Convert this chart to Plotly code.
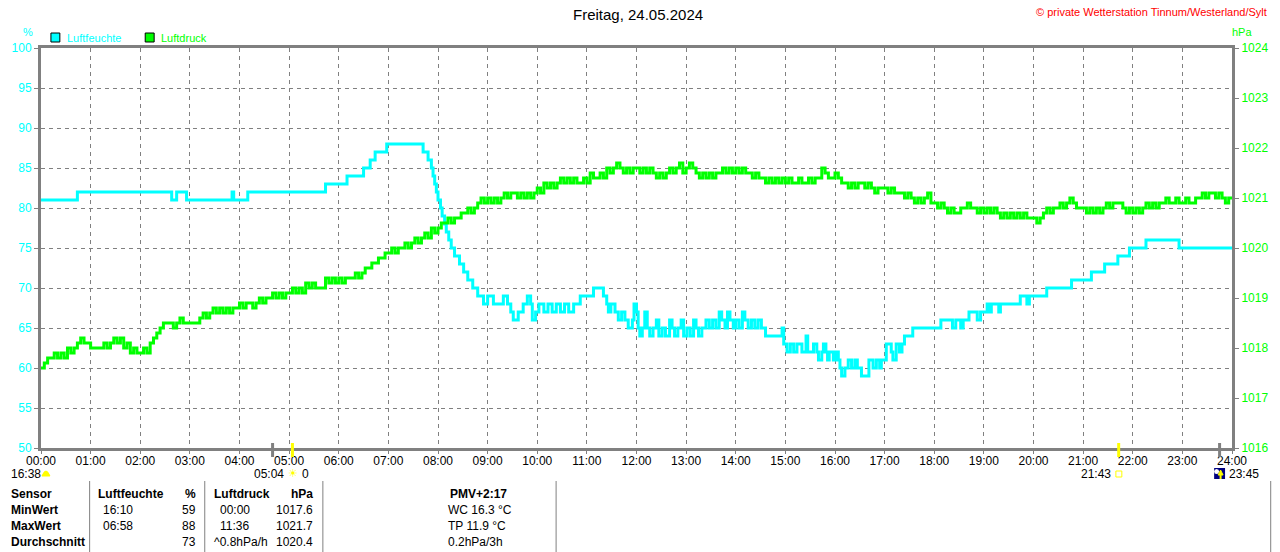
import plotly.graph_objects as go

TITLE = "Freitag, 24.05.2024"
COPYRIGHT = "© private Wetterstation Tinnum/Westerland/Sylt"

# Luftfeuchte in %, stepwise (time of change, value)
HUMIDITY = [
    ("00:00", 81), ("00:44", 82), ("02:38", 81), ("02:44", 82), ("02:56", 81), ("03:51", 82), ("03:53", 81),
    ("04:10", 82), ("05:44", 83), ("06:10", 84), ("06:30", 85), ("06:38", 86), ("06:44", 87), ("06:58", 88),
    ("07:42", 87), ("07:48", 86), ("07:52", 85), ("07:54", 84), ("07:56", 83), ("07:58", 82), ("08:00", 81),
    ("08:03", 80), ("08:05", 79), ("08:08", 78), ("08:10", 77), ("08:13", 76), ("08:16", 75), ("08:20", 74),
    ("08:26", 73), ("08:31", 72), ("08:36", 71), ("08:42", 70), ("08:48", 69), ("08:55", 68), ("09:00", 69),
    ("09:07", 68), ("09:19", 69), ("09:24", 68), ("09:28", 67), ("09:31", 66), ("09:37", 67), ("09:43", 68),
    ("09:48", 69), ("09:52", 68), ("09:54", 66), ("09:58", 67), ("10:02", 68), ("10:08", 67), ("10:13", 68),
    ("10:18", 67), ("10:23", 68), ("10:28", 67), ("10:33", 68), ("10:38", 67), ("10:44", 68), ("10:52", 69),
    ("11:08", 70), ("11:20", 69), ("11:24", 68), ("11:26", 67), ("11:29", 68), ("11:34", 67), ("11:38", 66),
    ("11:42", 67), ("11:46", 66), ("11:50", 65), ("11:55", 66), ("11:57", 68), ("12:00", 67), ("12:02", 65),
    ("12:04", 64), ("12:07", 65), ("12:10", 67), ("12:13", 65), ("12:16", 64), ("12:20", 65), ("12:24", 66),
    ("12:27", 64), ("12:31", 65), ("12:35", 64), ("12:40", 66), ("12:43", 65), ("12:46", 64), ("12:50", 65),
    ("12:54", 66), ("12:57", 64), ("13:01", 65), ("13:05", 64), ("13:09", 66), ("13:12", 65), ("13:15", 64),
    ("13:19", 65), ("13:24", 66), ("13:28", 65), ("13:32", 66), ("13:36", 65), ("13:40", 67), ("13:43", 66),
    ("13:47", 65), ("13:50", 67), ("13:53", 66), ("13:57", 65), ("14:00", 66), ("14:04", 65), ("14:08", 67),
    ("14:11", 66), ("14:15", 65), ("14:19", 66), ("14:23", 65), ("14:27", 66), ("14:31", 65), ("14:36", 64),
    ("14:56", 65), ("14:58", 63), ("15:02", 62), ("15:06", 63), ("15:10", 62), ("15:14", 63), ("15:20", 62),
    ("15:25", 64), ("15:27", 62), ("15:34", 63), ("15:38", 62), ("15:40", 61), ("15:44", 62), ("15:46", 63),
    ("15:49", 62), ("15:51", 61), ("15:53", 62), ("15:58", 61), ("16:01", 62), ("16:04", 61), ("16:06", 60),
    ("16:08", 59), ("16:12", 60), ("16:16", 61), ("16:20", 60), ("16:24", 61), ("16:27", 60), ("16:32", 59),
    ("16:41", 61), ("16:46", 60), ("16:50", 61), ("16:54", 60), ("16:56", 61), ("17:02", 63), ("17:08", 62),
    ("17:10", 61), ("17:14", 63), ("17:18", 62), ("17:21", 63), ("17:24", 64), ("17:34", 65), ("18:08", 66),
    ("18:22", 65), ("18:26", 66), ("18:32", 65), ("18:35", 66), ("18:42", 67), ("18:52", 66), ("18:56", 67),
    ("19:04", 68), ("19:06", 67), ("19:09", 68), ("19:18", 67), ("19:20", 68), ("19:44", 69), ("19:52", 68),
    ("19:55", 69), ("20:16", 70), ("20:46", 71), ("21:10", 72), ("21:26", 73), ("21:42", 74), ("21:56", 75),
    ("22:16", 76), ("22:56", 75), ("24:00", 75),
]

# Luftdruck in hPa, one row per hour, sampled every 4 minutes
P_STEP_MIN = 4
PRESSURE_BY_HOUR = [
    [1017.6, 1017.7, 1017.8, 1017.8, 1017.9, 1017.8, 1017.9, 1017.8, 1018.0, 1017.9, 1018.0, 1018.1, 1018.2, 1018.1, 1018.1],
    [1018.0, 1018.0, 1018.0, 1018.0, 1018.1, 1018.0, 1018.1, 1018.2, 1018.1, 1018.2, 1018.0, 1018.1, 1017.9, 1018.0, 1017.9],
    [1017.9, 1018.0, 1017.9, 1018.1, 1018.2, 1018.3, 1018.4, 1018.5, 1018.5, 1018.5, 1018.4, 1018.5, 1018.6, 1018.5, 1018.5],
    [1018.5, 1018.5, 1018.5, 1018.6, 1018.7, 1018.6, 1018.7, 1018.8, 1018.7, 1018.8, 1018.7, 1018.8, 1018.7, 1018.8, 1018.8],
    [1018.9, 1018.8, 1018.9, 1018.9, 1018.8, 1018.9, 1019.0, 1018.9, 1019.0, 1019.0, 1019.1, 1019.0, 1019.1, 1019.0, 1019.1],
    [1019.1, 1019.2, 1019.1, 1019.2, 1019.1, 1019.3, 1019.2, 1019.3, 1019.2, 1019.2, 1019.2, 1019.4, 1019.3, 1019.4, 1019.3],
    [1019.4, 1019.3, 1019.4, 1019.4, 1019.4, 1019.5, 1019.4, 1019.5, 1019.6, 1019.6, 1019.7, 1019.7, 1019.8, 1019.8, 1019.9],
    [1019.9, 1020.0, 1019.9, 1020.0, 1020.0, 1020.1, 1020.0, 1020.1, 1020.2, 1020.1, 1020.2, 1020.3, 1020.2, 1020.4, 1020.3],
    [1020.4, 1020.5, 1020.5, 1020.6, 1020.5, 1020.6, 1020.6, 1020.7, 1020.7, 1020.8, 1020.7, 1020.8, 1020.9, 1021.0, 1020.9],
    [1021.0, 1020.9, 1021.0, 1020.9, 1021.0, 1021.1, 1021.0, 1021.1, 1021.1, 1021.0, 1021.1, 1021.0, 1021.1, 1021.0, 1021.1],
    [1021.2, 1021.1, 1021.3, 1021.2, 1021.3, 1021.2, 1021.3, 1021.4, 1021.3, 1021.4, 1021.3, 1021.4, 1021.3, 1021.3, 1021.4],
    [1021.3, 1021.5, 1021.4, 1021.4, 1021.5, 1021.4, 1021.6, 1021.5, 1021.6, 1021.7, 1021.6, 1021.5, 1021.6, 1021.5, 1021.6],
    [1021.6, 1021.5, 1021.6, 1021.5, 1021.6, 1021.5, 1021.4, 1021.5, 1021.4, 1021.5, 1021.6, 1021.5, 1021.6, 1021.7, 1021.5],
    [1021.6, 1021.7, 1021.6, 1021.5, 1021.4, 1021.5, 1021.4, 1021.5, 1021.4, 1021.5, 1021.5, 1021.6, 1021.5, 1021.6, 1021.5],
    [1021.6, 1021.5, 1021.6, 1021.5, 1021.5, 1021.4, 1021.5, 1021.4, 1021.4, 1021.3, 1021.4, 1021.3, 1021.4, 1021.3, 1021.4],
    [1021.3, 1021.4, 1021.3, 1021.3, 1021.4, 1021.3, 1021.3, 1021.4, 1021.3, 1021.4, 1021.4, 1021.6, 1021.5, 1021.4, 1021.4],
    [1021.5, 1021.4, 1021.3, 1021.3, 1021.2, 1021.3, 1021.2, 1021.3, 1021.3, 1021.2, 1021.3, 1021.2, 1021.1, 1021.2, 1021.2],
    [1021.2, 1021.1, 1021.2, 1021.1, 1021.1, 1021.1, 1021.0, 1021.1, 1021.0, 1020.9, 1021.0, 1020.9, 1021.0, 1021.1, 1020.9],
    [1020.9, 1020.8, 1020.9, 1020.8, 1020.7, 1020.8, 1020.7, 1020.7, 1020.8, 1020.8, 1020.9, 1020.8, 1020.8, 1020.7, 1020.8],
    [1020.7, 1020.8, 1020.7, 1020.8, 1020.7, 1020.6, 1020.7, 1020.6, 1020.7, 1020.6, 1020.7, 1020.6, 1020.7, 1020.6, 1020.6],
    [1020.6, 1020.5, 1020.6, 1020.7, 1020.8, 1020.7, 1020.8, 1020.8, 1020.9, 1020.8, 1020.9, 1021.0, 1020.9, 1020.8, 1020.8],
    [1020.8, 1020.7, 1020.8, 1020.7, 1020.8, 1020.7, 1020.8, 1020.9, 1020.8, 1020.9, 1020.9, 1020.9, 1020.8, 1020.7, 1020.8],
    [1020.7, 1020.8, 1020.7, 1020.8, 1020.9, 1020.8, 1020.9, 1020.8, 1020.9, 1020.9, 1021.0, 1020.9, 1020.9, 1021.0, 1020.9],
    [1020.9, 1021.0, 1020.9, 1020.9, 1021.0, 1021.0, 1021.1, 1021.0, 1021.1, 1021.1, 1021.0, 1021.1, 1021.0, 1020.9, 1021.0],
]
PRESSURE_END = 1021.0  # 24:00

HOUR_LABELS = ["%02d:00" % h for h in range(25)]

# sun / moon markers on the time axis
MARKERS = [("04:40", "#808080"), ("05:04", "#ffff00"), ("21:43", "#ffff00"), ("23:45", "#808080")]

TABLE_HEAD = ["Sensor", "Luftfeuchte", "%", "Luftdruck", "hPa", "PMV+2:17"]
TABLE_ROWS = [
    ["MinWert", "16:10", "59", "00:00", "1017.6", "WC 16.3 °C"],
    ["MaxWert", "06:58", "88", "11:36", "1021.7", "TP 11.9 °C"],
    ["Durchschnitt", "", "73", "^0.8hPa/h", "1020.4", "0.2hPa/3h"],
]

CYAN = "#00ffff"
GREEN = "#00ff00"
GRAY = "#808080"
FONT = "Liberation Sans, Arial, sans-serif"


def hours(t):
    h, m = t.split(":")
    return int(h) + int(m) / 60


# pixel -> paper helpers (plot area spans x 40..1240, y 48..448)
def px(x):
    return (x - 40) / 1200


def py(y):
    return (448 - y) / 400


hum_x = [hours(t) for t, _ in HUMIDITY]
hum_y = [v for _, v in HUMIDITY]

p_x, p_y = [], []
for h, row in enumerate(PRESSURE_BY_HOUR):
    for i, v in enumerate(row):
        p_x.append(h + i * P_STEP_MIN / 60)
        p_y.append(v)
p_x.append(24)
p_y.append(PRESSURE_END)

fig = go.Figure()
fig.add_trace(go.Scatter(x=hum_x, y=hum_y, mode="lines", line=dict(color=CYAN, width=3, shape="hv"),
                         name="Luftfeuchte", yaxis="y"))
fig.add_trace(go.Scatter(x=p_x, y=p_y, mode="lines", line=dict(color=GREEN, width=3, shape="hv"),
                         name="Luftdruck", yaxis="y2"))

ann = []
shapes = []


def text(x, y, s, color="black", size=12, xanchor="left", bold=False):
    ann.append(dict(x=px(x), y=py(y), xref="paper", yref="paper", text="<b>%s</b>" % s if bold else s,
                    showarrow=False, xanchor=xanchor, yanchor="middle",
                    font=dict(family=FONT, size=size, color=color)))


text(642, 15, TITLE, size=15, xanchor="center")
text(1277, 12, COPYRIGHT, color="#ff0000", size=11, xanchor="right")
text(27, 32, "%", color=CYAN, size=11, xanchor="center")
text(1250, 32, "hPa", color=GREEN, size=11, xanchor="center")

# legend
for x0, label, col in [(50, "Luftfeuchte", CYAN), (145, "Luftdruck", GREEN)]:
    shapes.append(dict(type="rect", xref="paper", yref="paper", x0=px(x0), x1=px(x0 + 9), y0=py(42), y1=py(33),
                       fillcolor=col, line=dict(color="black", width=1)))
    text(x0 + 14, 38, label, color=col, size=11)

# sun / moon ticks on the axis
for t, col in MARKERS:
    shapes.append(dict(type="line", xref="x", yref="paper", x0=hours(t), x1=hours(t), y0=py(443), y1=py(457),
                       line=dict(color=col, width=3)))

text(8, 474, "16:38", size=12)
shapes.append(dict(type="path", xref="paper", yref="paper",
                   path="M %f,%f Q %f,%f %f,%f Z" % (px(41), py(476), px(45), py(466), px(49), py(476)),
                   fillcolor="#ffff00", line=dict(color="#ffff00", width=1)))
text(287, 474, "05:04", size=12, xanchor="right")
text(294, 473, "☀", color="#ffff00", size=11, xanchor="center")
text(301, 474, "0", size=12)
text(1120, 474, "21:43", size=12, xanchor="right")
shapes.append(dict(type="rect", xref="paper", yref="paper", x0=px(1123), x1=px(1129), y0=py(477), y1=py(471),
                   line=dict(color="#ffff00", width=1)))
shapes.append(dict(type="rect", xref="paper", yref="paper", x0=px(1222), x1=px(1233), y0=py(479), y1=py(468),
                   fillcolor="#000080", line=dict(width=0)))
shapes.append(dict(type="circle", xref="paper", yref="paper", x0=px(1222), x1=px(1227), y0=py(474), y1=py(469),
                   fillcolor="white", line=dict(width=0)))
shapes.append(dict(type="path", xref="paper", yref="paper",
                   path="M %f,%f L %f,%f L %f,%f Z" % (px(1226), py(475), px(1231), py(475), px(1228.5), py(470)),
                   fillcolor="#ffff00", line=dict(color="#ffff00", width=1)))
shapes.append(dict(type="line", xref="paper", yref="paper", x0=px(1228.5), x1=px(1228.5), y0=py(475), y1=py(479),
                   line=dict(color="#ffff00", width=2)))
text(1235, 474, "23:45", size=12)

# table at the bottom
for xs in [89, 205, 324, 559, 1279]:
    shapes.append(dict(type="line", xref="paper", yref="paper", x0=px(xs), x1=px(xs), y0=py(481), y1=py(552),
                       line=dict(color=GRAY, width=1)))

rows_y = [510, 526, 542]
text(8, 494, TABLE_HEAD[0], bold=True)
text(95, 494, TABLE_HEAD[1], bold=True)
text(198, 494, TABLE_HEAD[2], bold=True, xanchor="right")
text(212, 494, TABLE_HEAD[3], bold=True)
text(316, 494, TABLE_HEAD[4], bold=True, xanchor="right")
text(481, 494, TABLE_HEAD[5], bold=True, xanchor="center")
for y, row in zip(rows_y, TABLE_ROWS):
    text(8, y, row[0], bold=True)
    text(100, y, row[1])
    text(198, y, row[2], xanchor="right")
    text(218 if row[3][:1].isdigit() else 212, y, row[3])
    text(316, y, row[4], xanchor="right")
    text(448, y, row[5])

grid = dict(showgrid=True, gridcolor=GRAY, gridwidth=1, griddash="4px,4px")

fig.update_layout(
    width=1280, height=552,
    margin=dict(l=40, r=40, t=48, b=104),
    paper_bgcolor="white", plot_bgcolor="white",
    showlegend=False,
    font=dict(family=FONT, size=12, color="black"),
    xaxis=dict(range=[0, 24], tickvals=list(range(25)), ticktext=HOUR_LABELS, **grid,
               showline=True, linecolor=GRAY, linewidth=3, mirror=True,
               ticks="outside", ticklen=3, tickwidth=1, tickcolor=GRAY, zeroline=False,
               ticklabelstandoff=-3,
               tickfont=dict(family=FONT, size=12, color="black")),
    yaxis=dict(range=[50, 100], dtick=5, **grid,
               showline=True, linecolor=GRAY, linewidth=3, zeroline=False,
               ticks="outside", ticklen=4, tickwidth=1, tickcolor=GRAY,
               tickfont=dict(family=FONT, size=12, color=CYAN)),
    yaxis2=dict(range=[1016, 1024], dtick=1, overlaying="y", side="right", showgrid=False,
                showline=True, linecolor=GRAY, linewidth=3, zeroline=False,
                ticks="outside", ticklen=4, tickwidth=1, tickcolor=GRAY,
                tickfont=dict(family=FONT, size=12, color=GREEN)),
    annotations=ann,
    shapes=shapes,
)

# the page gets photographed at 1280x552: drop the default body margin
fig.write_html("out.html", config={"displayModeBar": False},
               post_script="document.body.style.margin='0';document.body.style.overflow='hidden';")
